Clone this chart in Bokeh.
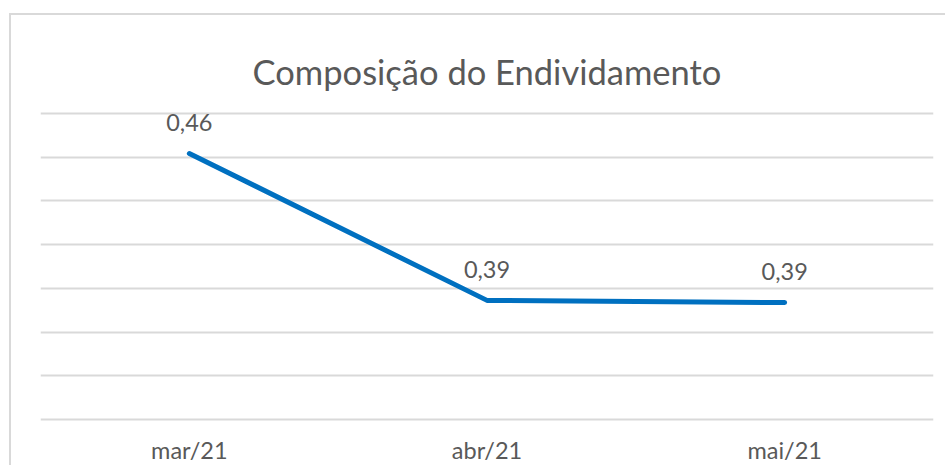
from bokeh.plotting import figure
from bokeh.models import FactorRange, Range1d, FixedTicker, ColumnDataSource
from bokeh.core.properties import value
from bokeh.embed import file_html
from bokeh.resources import INLINE

# ---- data ----
categories = ["mar/21", "abr/21", "mai/21"]
values = [0.4617, 0.3945, 0.3935]
grid_ticks = [0.34, 0.36, 0.38, 0.40, 0.42, 0.44, 0.46, 0.48]
title_text = "Composição do Endividamento"

labels = [f"{v:.2f}".replace(".", ",") for v in values]

W, H = 936, 452
frame_top = 96
frame_h = 310
px_per_unit = 306 / (grid_ticks[-1] - grid_ticks[0])
pad = (frame_h / px_per_unit - (grid_ticks[-1] - grid_ticks[0])) / 2

p = figure(
    width=W, height=H,
    x_range=FactorRange(factors=categories, range_padding=0),
    y_range=Range1d(grid_ticks[0] - pad, grid_ticks[-1] + pad),
    output_backend="svg", toolbar_location=None,
    min_border_left=29, min_border_right=W - 922,
    min_border_top=frame_top, min_border_bottom=H - frame_top - frame_h,
)
p.margin = (13, 0, 0, 9)
p.styles = {"border-left": "2px solid #D9D9D9", "border-top": "2px solid #D9D9D9"}
p.outline_line_color = None
p.background_fill_color = "white"
p.border_fill_color = "white"

# title
p.title.text = title_text
p.title.align = "center"
p.title.text_font = "Lato"
p.title.text_font_size = "34.5px"
p.title.text_font_style = "normal"
p.title.text_color = "#595959"
p.title.standoff = 40

# axes
p.yaxis.visible = False
p.xaxis.axis_line_color = None
p.xaxis.major_tick_line_color = None
p.xaxis.minor_tick_line_color = None
p.xaxis.major_label_text_font = "Lato"
p.xaxis.major_label_text_font_size = "23.5px"
p.xaxis.major_label_text_color = "#595959"
p.xaxis.major_label_standoff = 8

# grid
p.xgrid.visible = False
p.ygrid.ticker = FixedTicker(ticks=grid_ticks)
p.ygrid.grid_line_color = "#D9D9D9"
p.ygrid.grid_line_width = 2

src = ColumnDataSource(dict(x=categories, y=values, lab=labels))
p.line("x", "y", source=src, line_color="#0070C0", line_width=5, line_cap="round", line_join="round")
p.text("x", "y", text="lab", source=src, text_align="center", text_baseline="middle",
       y_offset=-31, text_font=value("Lato"), text_font_size="23.5px", text_color="#595959")

open("out.html", "w").write(file_html(p, INLINE))
